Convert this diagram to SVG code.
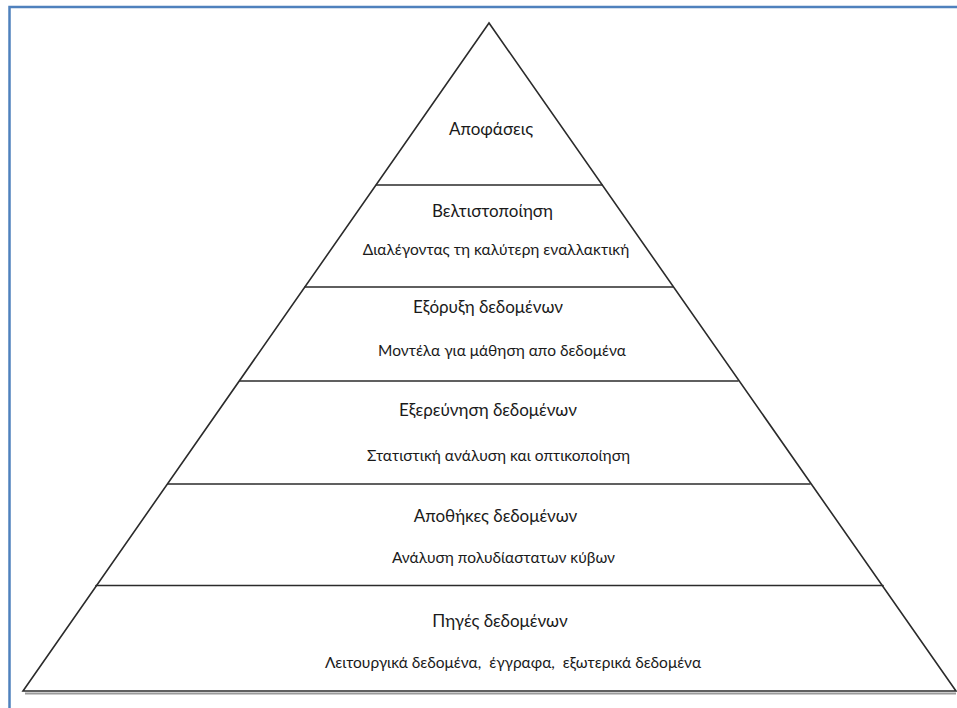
<svg xmlns="http://www.w3.org/2000/svg" width="957" height="708" viewBox="0 0 957 708">
  <style>
    .edge { stroke: #2b2b2b; stroke-width: 1.6; fill: none; stroke-linecap: round; }
    .shadow { stroke: #9a9a9a; stroke-width: 2; fill: none; }
    .frame { stroke: #4f81bd; stroke-width: 2.5; fill: none; }
    text { font-family: Lato, "Noto Sans", "Liberation Sans", sans-serif; font-size: 17px; fill: #1a1a1a; text-anchor: middle; }
    text.sub { font-size: 15.5px; }
  </style>
  <rect width="957" height="708" fill="#ffffff"/>
  <!-- page frame -->
  <path class="frame" d="M9.5,708 V7 H957"/>

  <!-- pyramid outline and tier dividers -->
  <g id="connectors">
    <line class="shadow" x1="25" y1="693.5" x2="956" y2="693.5"/>
    <path class="edge" d="M489,23 L23,691 L956,691 Z"/>
    <line class="edge" x1="376.5" y1="185" x2="602" y2="185"/>
    <line class="edge" x1="305" y1="287" x2="673" y2="287"/>
    <line class="edge" x1="240" y1="381" x2="738" y2="381"/>
    <line class="edge" x1="168" y1="484" x2="810" y2="484"/>
    <line class="edge" x1="96" y1="585.5" x2="883" y2="585.5"/>
  </g>

  <g id="tier-decisions">
    <text x="491" y="135">Αποφάσεις</text>
  </g>
  <g id="tier-optimization">
    <text x="492.5" y="217">Βελτιστοποίηση</text>
    <text class="sub" x="496" y="255">Διαλέγοντας τη καλύτερη εναλλακτική</text>
  </g>
  <g id="tier-data-mining">
    <text x="488" y="313">Εξόρυξη δεδομένων</text>
    <text class="sub" x="502" y="356">Μοντέλα για μάθηση απο δεδομένα</text>
  </g>
  <g id="tier-data-exploration">
    <text x="488" y="416">Εξερεύνηση δεδομένων</text>
    <text class="sub" x="498.5" y="461">Στατιστική ανάλυση και οπτικοποίηση</text>
  </g>
  <g id="tier-data-warehouses">
    <text x="495.5" y="522">Αποθήκες δεδομένων</text>
    <text class="sub" x="503.5" y="563">Ανάλυση πολυδίαστατων κύβων</text>
  </g>
  <g id="tier-data-sources">
    <text x="500" y="627">Πηγές δεδομένων</text>
    <text class="sub" x="513" y="668" xml:space="preserve">Λειτουργικά δεδομένα,  έγγραφα,  εξωτερικά δεδομένα</text>
  </g>
</svg>
